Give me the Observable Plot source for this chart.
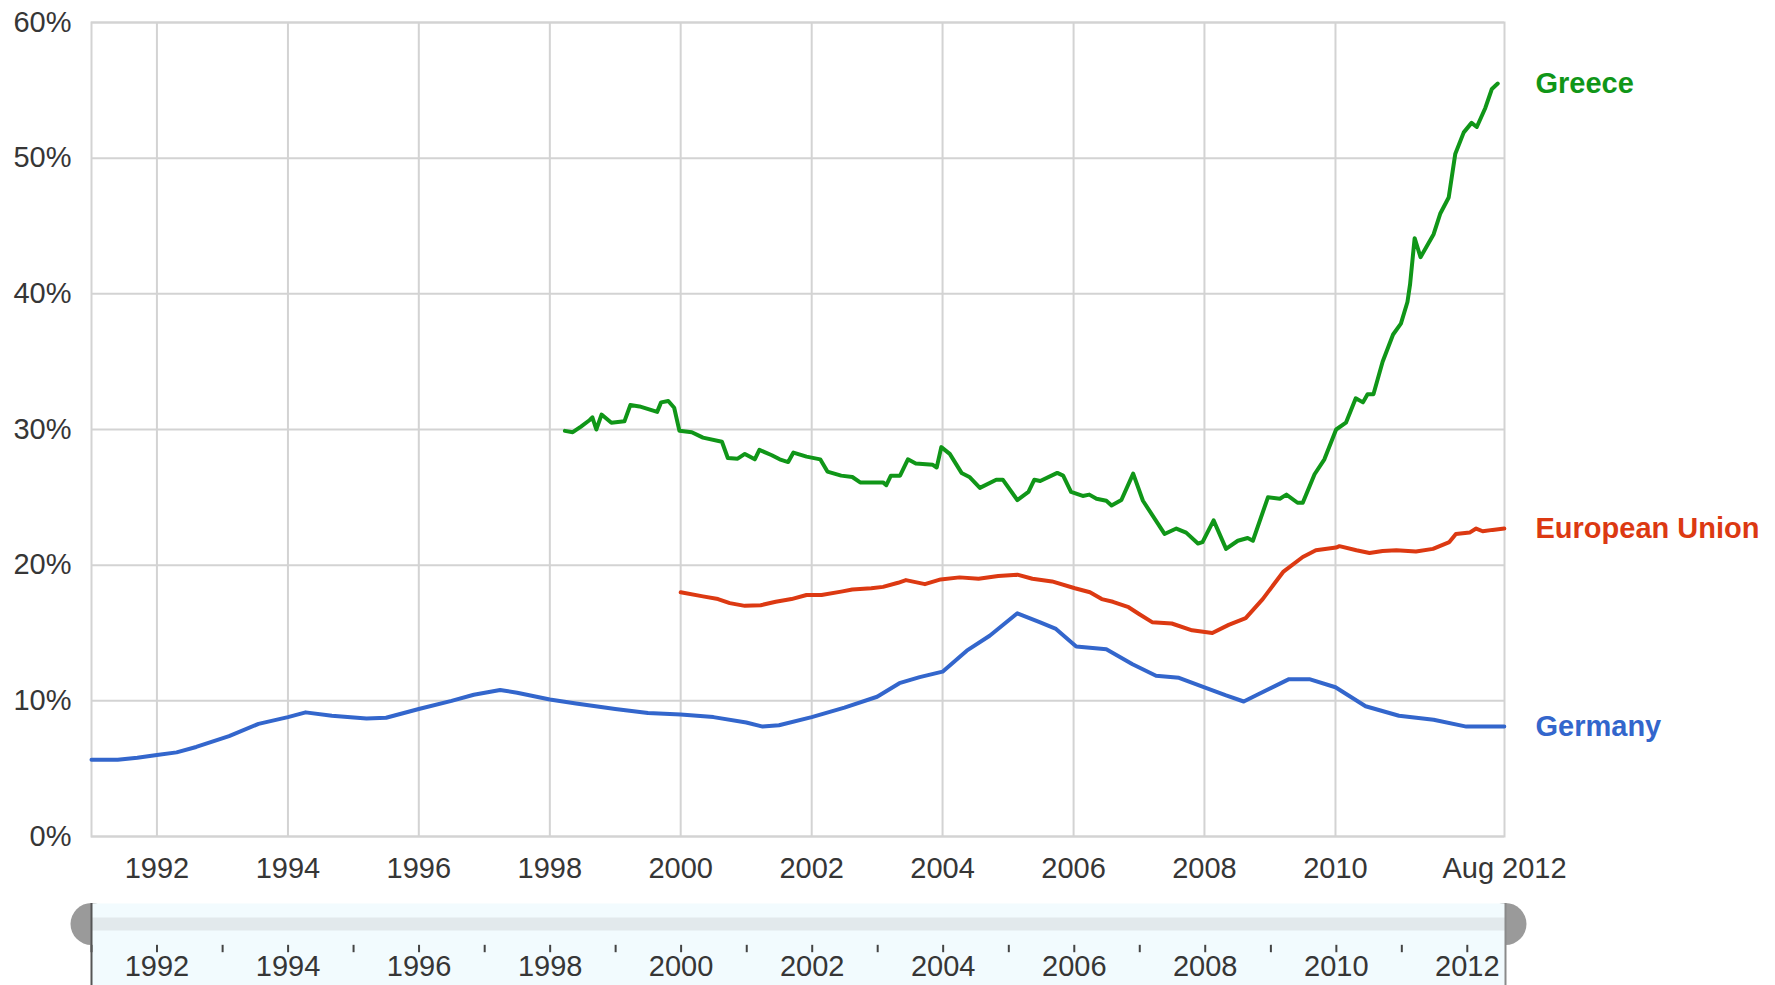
<!DOCTYPE html>
<html>
<head>
<meta charset="utf-8">
<script src="https://cdn.jsdelivr.net/npm/d3@7"></script>
<script src="https://cdn.jsdelivr.net/npm/@observablehq/plot@0.6"></script>
<style>
  html, body { margin: 0; padding: 0; background: #fff; }
  #chart { width: 1775px; height: 985px; }
  #chart svg { display: block; }
</style>
</head>
<body>
<div id="chart"></div>
<script>
// ---- Data (decimal years, percent) ----
const seriesNames = ["Greece", "European Union", "Germany"];
const seriesColors = ["#109618", "#dc3912", "#3366cc"];

const greeceYears = [1998.23,1998.35,1998.47,1998.61,1998.65,1998.71,1998.79,1998.94,1999.14,1999.23,1999.37,1999.64,1999.7,1999.81,1999.9,1999.98,2000.17,2000.34,2000.63,2000.72,2000.87,2000.98,2001.13,2001.2,2001.39,2001.51,2001.64,2001.72,2001.92,2002.13,2002.24,2002.45,2002.62,2002.74,2003.09,2003.14,2003.21,2003.35,2003.47,2003.59,2003.85,2003.91,2003.98,2004.11,2004.29,2004.41,2004.57,2004.82,2004.92,2005.14,2005.31,2005.4,2005.49,2005.75,2005.84,2005.96,2006.14,2006.24,2006.35,2006.5,2006.58,2006.73,2006.91,2007.06,2007.39,2007.57,2007.72,2007.9,2007.97,2008.14,2008.33,2008.51,2008.66,2008.74,2008.97,2009.15,2009.25,2009.42,2009.5,2009.68,2009.83,2010.01,2010.16,2010.31,2010.42,2010.49,2010.58,2010.72,2010.88,2011.0,2011.1,2011.14,2011.21,2011.3,2011.5,2011.6,2011.73,2011.83,2011.96,2012.08,2012.16,2012.29,2012.39,2012.48];
const greeceValues = [29.9,29.8,30.2,30.7,30.9,30.0,31.1,30.5,30.6,31.8,31.7,31.3,32.0,32.1,31.6,29.9,29.8,29.4,29.1,27.9,27.85,28.2,27.8,28.5,28.1,27.8,27.6,28.3,28.0,27.8,26.9,26.6,26.5,26.1,26.1,25.9,26.6,26.6,27.8,27.5,27.4,27.2,28.7,28.2,26.8,26.5,25.7,26.3,26.3,24.8,25.4,26.3,26.2,26.8,26.6,25.4,25.1,25.2,24.9,24.75,24.4,24.8,26.75,24.75,22.3,22.7,22.4,21.6,21.7,23.3,21.2,21.8,22.0,21.8,25.0,24.9,25.2,24.6,24.6,26.7,27.8,30.0,30.5,32.3,32.0,32.6,32.6,35.0,37.0,37.8,39.4,40.7,44.1,42.7,44.4,45.9,47.1,50.3,51.9,52.6,52.3,53.7,55.1,55.5];

const euYears = [2000.0,2000.34,2000.57,2000.75,2000.98,2001.22,2001.45,2001.69,2001.92,2002.15,2002.45,2002.62,2002.91,2003.09,2003.32,2003.44,2003.73,2003.97,2004.26,2004.55,2004.85,2005.14,2005.37,2005.67,2006.02,2006.25,2006.43,2006.6,2006.84,2007.0,2007.2,2007.5,2007.81,2008.12,2008.37,2008.63,2008.89,2009.2,2009.5,2009.7,2010.01,2010.06,2010.32,2010.52,2010.72,2010.93,2011.23,2011.49,2011.74,2011.84,2012.05,2012.15,2012.25,2012.4,2012.58];
const euValues = [18.0,17.7,17.5,17.2,17.0,17.05,17.3,17.5,17.8,17.8,18.05,18.2,18.3,18.4,18.7,18.9,18.6,18.95,19.1,19.0,19.2,19.3,19.0,18.8,18.3,18.0,17.5,17.3,16.9,16.4,15.8,15.7,15.2,15.0,15.6,16.1,17.5,19.5,20.6,21.1,21.3,21.4,21.1,20.9,21.05,21.1,21.0,21.2,21.7,22.3,22.4,22.7,22.5,22.6,22.7];

const germanyYears = [1991.0,1991.4,1991.7,1992.0,1992.3,1992.6,1993.1,1993.55,1994.0,1994.27,1994.67,1995.2,1995.5,1996.0,1996.5,1996.84,1997.24,1997.5,1998.0,1998.4,1999.0,1999.5,2000.0,2000.5,2001.0,2001.25,2001.5,2002.0,2002.5,2003.0,2003.34,2003.65,2004.0,2004.37,2004.72,2005.14,2005.48,2005.73,2006.04,2006.5,2006.9,2007.26,2007.61,2008.0,2008.33,2008.6,2008.83,2009.29,2009.6,2010.0,2010.46,2010.97,2011.5,2012.0,2012.58];
const germanyValues = [5.65,5.65,5.8,6.0,6.2,6.6,7.4,8.3,8.8,9.15,8.9,8.7,8.75,9.4,10.0,10.45,10.8,10.6,10.1,9.8,9.4,9.1,9.0,8.8,8.4,8.1,8.2,8.8,9.5,10.3,11.3,11.75,12.15,13.7,14.8,16.45,15.8,15.3,14.0,13.8,12.7,11.85,11.7,11.0,10.4,9.95,10.5,11.6,11.6,11.0,9.6,8.9,8.6,8.1,8.1];

const yTicks = [0, 10, 20, 30, 40, 50, 60];
const xGridYears = [1992, 1994, 1996, 1998, 2000, 2002, 2004, 2006, 2008, 2010];
const endLabel = "Aug 2012";
const sliderTickYears = d3.range(1991, 2013);
const sliderLabelYears = [1992, 1994, 1996, 1998, 2000, 2002, 2004, 2006, 2008, 2010, 2012];

// ---- Helpers ----
const toDate = t => {
  const y = Math.floor(t);
  return new Date(Date.UTC(y, 0, 1) + (t - y) * 365.25 * 864e5);
};
const jan = y => new Date(Date.UTC(y, 0, 1));
const start = jan(1991);
const end = new Date(Date.UTC(2012, 7, 1));

const seriesYears = [greeceYears, euYears, germanyYears];
const seriesValues = [greeceValues, euValues, germanyValues];
const rows = seriesNames.flatMap((name, i) =>
  seriesYears[i].map((t, j) => ({ series: name, date: toDate(t), value: seriesValues[i][j] })));
const lastRows = seriesNames.map((name, i) => {
  const n = seriesYears[i].length - 1;
  return { series: name, value: seriesValues[i][n] };
});

const font = '"Liberation Sans", Arial, Helvetica, sans-serif';
const gridColor = "#d3d3d3";
const textColor = "#363636";

const xTickDates = xGridYears.map(jan).concat([end]);

const main = Plot.plot({
  width: 1775,
  height: 895,
  marginLeft: 91,
  marginRight: 271,
  marginTop: 22,
  marginBottom: 59,
  style: { fontFamily: font, fontSize: "29px", color: textColor, background: "#fff" },
  x: { type: "utc", domain: [start, end] },
  y: { domain: [0, 60] },
  color: { domain: seriesNames, range: seriesColors },
  marks: [
    Plot.gridY(yTicks, { stroke: gridColor, strokeOpacity: 1, strokeWidth: 2 }),
    Plot.gridX(xGridYears.map(jan), { stroke: gridColor, strokeOpacity: 1, strokeWidth: 2 }),
    Plot.frame({ stroke: gridColor, strokeWidth: 2 }),
    Plot.axisY(yTicks, { tickSize: 0, tickPadding: 20, tickFormat: d => d + "%", label: null, fill: textColor }),
    Plot.axisX(xTickDates, {
      tickSize: 0, tickPadding: 21, label: null, fill: textColor,
      tickFormat: d => (+d === +end ? endLabel : String(d.getUTCFullYear()))
    }),
    Plot.line(rows, { x: "date", y: "value", z: "series", stroke: "series", strokeWidth: 4, strokeLinejoin: "round" }),
    Plot.text(lastRows, {
      x: () => end, y: "value", text: "series", fill: "series",
      dx: 31, textAnchor: "start", fontWeight: "bold", fontSize: 29
    })
  ]
});

const slider = Plot.plot({
  width: 1775,
  height: 90,
  marginLeft: 91,
  marginRight: 270,
  marginTop: 8,
  marginBottom: 0,
  style: { fontFamily: font, fontSize: "29px", color: textColor, background: "#fff" },
  x: { type: "utc", domain: [start, end], axis: null },
  y: { domain: [0, 1], axis: null },
  marks: [
    Plot.dot([start, end], { x: d => d, y: 0.75, r: 21, fill: "#9a9a9a" }),
    Plot.frame({ fill: "#f2fbfe", stroke: null }),
    Plot.ruleY([0.75], { x1: start, x2: end, stroke: "#e2e9ec", strokeWidth: 13 }),
    Plot.ruleX(sliderTickYears.map(jan), { y1: 0.40, y2: 0.49, stroke: "#444", strokeWidth: 2 }),
    Plot.text(sliderLabelYears, { x: jan, y: 0.23, text: d => String(d), fill: textColor, fontSize: 29 }),
    Plot.ruleX([start], { stroke: "#555", strokeWidth: 2 }),
    Plot.ruleX([end], { stroke: "#8a8a8a", strokeWidth: 2 })
  ]
});

document.getElementById("chart").append(main, slider);
</script>
</body>
</html>
